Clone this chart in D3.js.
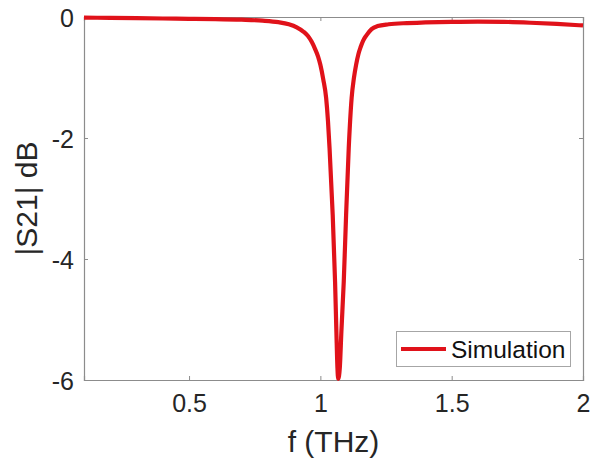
<!DOCTYPE html>
<html>
<head>
<meta charset="utf-8">
<script src="https://cdn.jsdelivr.net/npm/d3@7"></script>
<style>
  html, body { margin: 0; padding: 0; background: #fff; }
  svg text { font-family: "Liberation Sans", Arial, Helvetica, sans-serif; }
</style>
</head>
<body>
<svg id="chart" width="594" height="470"></svg>
<script>
// Transmission |S21| (dB) versus frequency (THz)
const freq = [0.10, 0.20, 0.30, 0.40, 0.50, 0.60, 0.70, 0.78, 0.84, 0.88, 0.91, 0.935, 0.952, 0.967, 0.980,
  0.991, 1.000, 1.011, 1.022, 1.029, 1.035, 1.047, 1.056, 1.061, 1.065, 1.068, 1.074, 1.080, 1.089,
  1.098, 1.108, 1.119, 1.128, 1.136, 1.145, 1.153, 1.163, 1.176, 1.195, 1.218, 1.260, 1.330, 1.400,
  1.500, 1.600, 1.700, 1.800, 1.900, 2.000];
const s21 = [-0.01, -0.015, -0.02, -0.025, -0.03, -0.035, -0.045, -0.06, -0.085, -0.12, -0.17, -0.24, -0.31, -0.41, -0.53,
  -0.65, -0.79, -1.03, -1.34, -1.72, -2.17, -3.27, -4.38, -5.20, -5.80, -5.98, -5.80, -5.20, -4.38,
  -3.27, -2.17, -1.34, -1.00, -0.79, -0.61, -0.50, -0.39, -0.30, -0.20, -0.15, -0.12, -0.10, -0.09,
  -0.08, -0.075, -0.08, -0.095, -0.115, -0.14];
const xTicks = [0.5, 1, 1.5, 2];
const yTicks = [0, -2, -4, -6];
const seriesName = "Simulation";

(function () {
  const margin = { left: 84, top: 17, right: 11, bottom: 90 };
  const W = 594, H = 470;
  const x0 = margin.left, x1 = W - margin.right;
  const y0 = margin.top, y1 = H - margin.bottom;

  const svg = d3.select("#chart");
  const x = d3.scaleLinear().domain([0.1, 2]).range([x0, x1]);
  const y = d3.scaleLinear().domain([-6, 0]).range([y1, y0]);

  const axisColor = "#8c8c8c";
  const textColor = "#262626";
  const tickLen = 4;
  const fmt = d => String(d);

  // box axes with inward ticks
  const g = svg.append("g");
  const axBottom = g.append("g").attr("transform", `translate(0,${y1})`)
    .call(d3.axisBottom(x).tickValues(xTicks).tickSize(-tickLen).tickPadding(14).tickFormat(fmt));
  const axTop = g.append("g").attr("transform", `translate(0,${y0})`)
    .call(d3.axisTop(x).tickValues(xTicks).tickSize(-tickLen).tickFormat(""));
  const axLeft = g.append("g").attr("transform", `translate(${x0},0)`)
    .call(d3.axisLeft(y).tickValues(yTicks).tickSize(-tickLen).tickPadding(10).tickFormat(fmt));
  const axRight = g.append("g").attr("transform", `translate(${x1},0)`)
    .call(d3.axisRight(y).tickValues(yTicks).tickSize(-tickLen).tickFormat(""));

  [axBottom, axTop, axLeft, axRight].forEach(a => {
    a.select(".domain").attr("stroke", axisColor).attr("stroke-width", 1.2);
    a.selectAll(".tick line").attr("stroke", axisColor).attr("stroke-width", 1);
    a.selectAll("text").attr("fill", textColor).attr("font-size", 25);
  });
  axLeft.selectAll("text").attr("dy", "0.36em");

  // axis titles
  svg.append("text")
    .attr("x", (x0 + x1) / 2).attr("y", 452)
    .attr("text-anchor", "middle").attr("fill", textColor)
    .attr("font-size", 30).text("f (THz)");
  svg.append("text")
    .attr("transform", `translate(37,${(y0 + y1) / 2}) rotate(-90)`)
    .attr("text-anchor", "middle").attr("fill", textColor)
    .attr("font-size", 30).text("|S21| dB");

  // curve
  const pts = freq.map((f, i) => [f, s21[i]]);
  const line = d3.line().x(d => x(d[0])).y(d => y(d[1])).curve(d3.curveMonotoneX);
  const red = "#e0121a";
  svg.append("path").datum(pts)
    .attr("fill", "none").attr("stroke", red)
    .attr("stroke-width", 4.2).attr("stroke-linejoin", "round")
    .attr("d", line);

  // legend
  const lg = svg.append("g");
  lg.append("rect").attr("x", 396.5).attr("y", 331.5).attr("width", 174).attr("height", 35)
    .attr("fill", "#fff").attr("stroke", "#a6a6a6").attr("stroke-width", 1);
  lg.append("line").attr("x1", 401).attr("x2", 446).attr("y1", 349).attr("y2", 349)
    .attr("stroke", red).attr("stroke-width", 4.2);
  lg.append("text").attr("x", 451).attr("y", 358)
    .attr("fill", "#111").attr("font-size", 24.5).text(seriesName);
})();
</script>
</body>
</html>
